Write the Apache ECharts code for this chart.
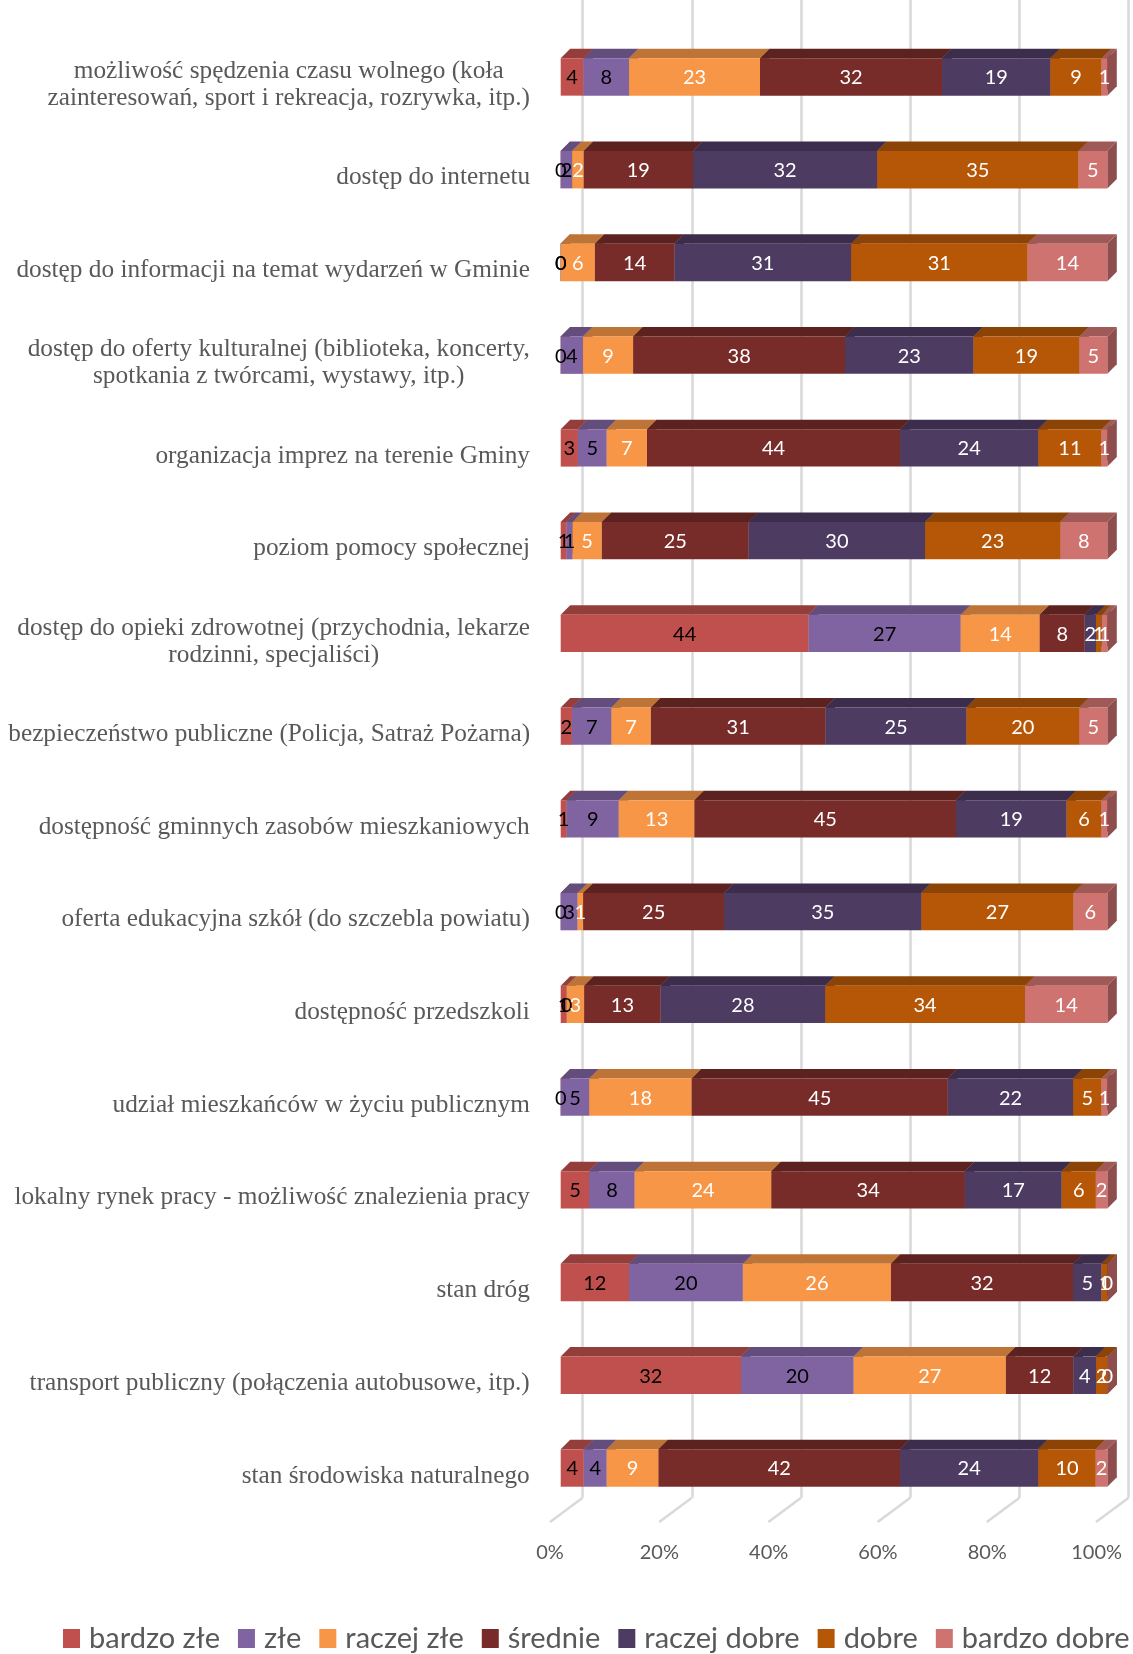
<!DOCTYPE html>
<html lang="pl">
<head>
  <meta charset="UTF-8">
  <script src="https://cdn.jsdelivr.net/npm/echarts@6/dist/echarts.min.js"></script>
  <title>Ocena</title>
  <style>
    html, body { margin: 0; padding: 0; background: #fff; }
    #chart { width: 1133px; height: 1654px; }
  </style>
</head>
<body>
  <div id="chart"></div>
  <script>
    // kategorie, od góry do dołu
    const categories = [
      'możliwość spędzenia czasu wolnego (koła\nzainteresowań, sport i rekreacja, rozrywka, itp.)',
      'dostęp do internetu',
      'dostęp do informacji na temat wydarzeń w Gminie',
      'dostęp do oferty kulturalnej (biblioteka, koncerty,\nspotkania z twórcami, wystawy, itp.)',
      'organizacja imprez na terenie Gminy',
      'poziom pomocy społecznej',
      'dostęp do opieki zdrowotnej (przychodnia, lekarze\nrodzinni, specjaliści)',
      'bezpieczeństwo publiczne (Policja, Satraż Pożarna)',
      'dostępność gminnych zasobów mieszkaniowych',
      'oferta edukacyjna szkół (do szczebla powiatu)',
      'dostępność przedszkoli',
      'udział mieszkańców w życiu publicznym',
      'lokalny rynek pracy - możliwość znalezienia pracy',
      'stan dróg',
      'transport publiczny (połączenia autobusowe, itp.)',
      'stan środowiska naturalnego'
    ];
    const seriesNames = ['bardzo złe', 'złe', 'raczej złe', 'średnie', 'raczej dobre', 'dobre', 'bardzo dobre'];

    const bardzoZle   = [4, 0, 0, 0, 3, 1, 44, 2, 1, 0, 1, 0, 5, 12, 32, 4];
    const zle         = [8, 2, 0, 4, 5, 1, 27, 7, 9, 3, 0, 5, 8, 20, 20, 4];
    const raczejZle   = [23, 2, 6, 9, 7, 5, 14, 7, 13, 1, 3, 18, 24, 26, 27, 9];
    const srednie     = [32, 19, 14, 38, 44, 25, 8, 31, 45, 25, 13, 45, 34, 32, 12, 42];
    const raczejDobre = [19, 32, 31, 23, 24, 30, 2, 25, 19, 35, 28, 22, 17, 5, 4, 24];
    const dobre       = [9, 35, 31, 19, 11, 23, 1, 20, 6, 27, 34, 5, 6, 1, 2, 10];
    const bardzoDobre = [1, 5, 14, 5, 1, 8, 1, 5, 1, 6, 14, 1, 2, 0, 0, 2];

    const xTicks = [0, 20, 40, 60, 80, 100];

    const values = [bardzoZle, zle, raczejZle, srednie, raczejDobre, dobre, bardzoDobre];
    const colors = ['#C0504D', '#8064A2', '#F79646', '#772C2A', '#4D3B62', '#B65708', '#CF7371'];
    const labelColors = ['#000', '#000', '#fff', '#fff', '#fff', '#fff', '#fff'];

    const DEPTH = 9.5;
    const GRID_COLOR = '#D9D9D9';
    const LABEL_SIZE = 25.3;

    function shade(hex, f) {
      const n = parseInt(hex.slice(1), 16);
      const r = Math.round(((n >> 16) & 255) * f);
      const g = Math.round(((n >> 8) & 255) * f);
      const b = Math.round((n & 255) * f);
      return 'rgb(' + r + ',' + g + ',' + b + ')';
    }

    // sumy w wierszach -> udział procentowy (wykres 100%)
    const totals = categories.map((c, i) => values.reduce((s, arr) => s + arr[i], 0));
    const cum = categories.map(() => 0);
    const segData = values.map(arr => arr.map((v, i) => {
      const start = cum[i] / totals[i] * 100;
      cum[i] += v;
      const end = cum[i] / totals[i] * 100;
      return [v, i, start, end];
    }));

    // szerokość etykiet (linie wyśrodkowane względem siebie)
    const ctx = document.createElement('canvas').getContext('2d');
    ctx.font = LABEL_SIZE + 'px "Liberation Serif"';
    const rich = {};
    categories.forEach((c, i) => {
      const w = Math.max(...c.split('\n').map(l => ctx.measureText(l).width));
      rich['c' + i] = { width: Math.ceil(w) + 1, align: 'center', lineHeight: 27,
        fontFamily: 'Liberation Serif', fontSize: LABEL_SIZE, color: '#595959' };
    });

    function makeRender(k) {
      const col = colors[k];
      return function (params, api) {
        const cat = api.value(1);
        const p0 = api.coord([api.value(2), cat]);
        const p1 = api.coord([api.value(3), cat]);
        const h = api.size([0, 1])[1] * 0.403;
        const top = p0[1] - h / 2, bot = p0[1] + h / 2;
        const x0 = p0[0], x1 = p1[0];
        return {
          type: 'group',
          children: [
            { type: 'polygon', shape: { points: [[x1, top], [x1 + DEPTH, top - DEPTH], [x1 + DEPTH, bot - DEPTH], [x1, bot]] },
              style: { fill: shade(col, 0.68) } },
            { type: 'polygon', shape: { points: [[x0, top], [x0 + DEPTH, top - DEPTH], [x1 + DEPTH, top - DEPTH], [x1, top]] },
              style: { fill: shade(col, 0.77) } },
            { type: 'rect', shape: { x: x0, y: top, width: x1 - x0, height: h }, style: { fill: col } },
            { type: 'text', z2: 10, style: { text: String(api.value(0)), x: (x0 + x1) / 2, y: p0[1] + 1,
              align: 'center', verticalAlign: 'middle', fill: labelColors[k],
              fontFamily: 'Lato', fontSize: 20 } }
          ]
        };
      };
    }

    const chart = echarts.init(document.getElementById('chart'), null, { renderer: 'canvas' });

    const series = values.map((arr, k) => ({
      name: seriesNames[k],
      type: 'custom',
      xAxisIndex: 0,
      yAxisIndex: 0,
      itemStyle: { color: colors[k] },
      encode: { x: [2, 3], y: 1 },
      renderItem: makeRender(k),
      data: segData[k],
      z: 3
    }));

    // "podłoga" wykresu 3D
    series.push({
      type: 'custom',
      xAxisIndex: 1,
      yAxisIndex: 1,
      silent: true,
      z: 1,
      renderItem: function (params, api) {
        const p = api.coord([api.value(0), 0]);
        return { type: 'line', shape: { x1: p[0], y1: p[1], x2: p[0] - 32.7, y2: p[1] + 24.3 },
          style: { stroke: GRID_COLOR, lineWidth: 2.5 } };
      },
      data: xTicks.map(t => [t, 0])
    });

    chart.setOption({
      animation: false,
      backgroundColor: '#fff',
      grid: [
        { left: 560.7, width: 546.6, top: 30.6, height: 1483.8 },
        { left: 582.7, width: 546, top: 0, height: 1497.7 },
        { left: 550, width: 546.6, top: 0, height: 1522 }
      ],
      xAxis: [
        { gridIndex: 0, type: 'value', min: 0, max: 100, interval: 20, show: false },
        { gridIndex: 1, type: 'value', min: 0, max: 100, interval: 20,
          axisLine: { show: false }, axisTick: { show: false }, axisLabel: { show: false },
          splitLine: { show: true, lineStyle: { color: GRID_COLOR, width: 2.5 } } },
        { gridIndex: 2, type: 'value', min: 0, max: 100, interval: 20,
          axisLine: { show: false }, axisTick: { show: false }, splitLine: { show: false },
          axisLabel: { formatter: '{value}%', color: '#595959', fontFamily: 'Lato', fontSize: 20, margin: 21 } }
      ],
      yAxis: [
        { gridIndex: 0, type: 'category', inverse: true, data: categories,
          axisLine: { show: false }, axisTick: { show: false }, splitLine: { show: false },
          axisLabel: {
            interval: 0, margin: 30, padding: [16, 0, 0, 0], rich: rich,
            formatter: function (value) {
              const i = categories.indexOf(value);
              return value.split('\n').map(l => '{c' + i + '|' + l + '}').join('\n');
            }
          } },
        { gridIndex: 1, type: 'value', min: 0, max: 1, show: false },
        { gridIndex: 2, type: 'value', min: 0, max: 1, show: false }
      ],
      legend: {
        data: seriesNames,
        left: 63,
        top: 1624,
        width: 1070,
        padding: 0,
        icon: 'rect',
        itemWidth: 17,
        itemHeight: 19,
        itemGap: 18,
        textStyle: { color: '#595959', fontFamily: 'Lato', fontSize: 29, padding: [0, 0, 0, 4] }
      },
      series: series
    });
  </script>
</body>
</html>
